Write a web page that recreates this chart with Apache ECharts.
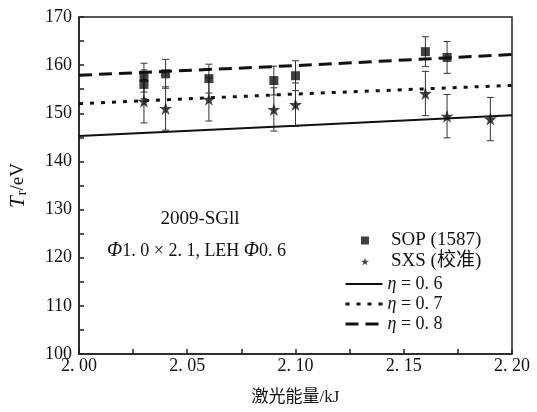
<!DOCTYPE html>
<html>
<head>
<meta charset="utf-8">
<script src="https://cdn.jsdelivr.net/npm/echarts@6/dist/echarts.min.js"></script>
<style>
  html, body { margin: 0; padding: 0; background: #fff; }
  #chart { width: 537px; height: 412px; }
</style>
</head>
<body>
<div id="chart"></div>
<script>
// Laser energy (kJ) and radiation temperature (eV) measurements
const sopEnergy = [2.03, 2.03, 2.04, 2.06, 2.09, 2.10, 2.16, 2.17];
const sopTemp   = [157.4, 156.0, 158.2, 157.2, 156.8, 157.8, 162.8, 161.6];
const sopErr    = [3.0, 3.0, 3.0, 3.0, 3.0, 3.1, 3.1, 3.3];

const sxsEnergy = [2.03, 2.04, 2.06, 2.09, 2.10, 2.16, 2.17, 2.19];
const sxsTemp   = [152.5, 151.0, 152.9, 150.8, 151.8, 154.1, 149.4, 148.8];
const sxsErr    = [4.5, 4.5, 4.5, 4.5, 4.5, 4.6, 4.5, 4.5];

// Model curves for several conversion efficiencies
const modelEnergy = [2.00, 2.10, 2.20];
const eta06 = [145.3, 147.4, 149.6];
const eta07 = [152.0, 154.0, 155.8];
const eta08 = [157.9, 159.9, 162.2];

const xTickValues = [2.00, 2.05, 2.10, 2.15, 2.20];
const xTickLabels = ['2. 00', '2. 05', '2. 10', '2. 15', '2. 20'];

const seriesNames = ['SOP (1587)', 'SXS (校准)', 'η=0. 6', 'η=0. 7', 'η=0. 8'];

const serif = "'Liberation Serif', 'Noto Sans CJK SC', serif";
const starPath = 'path://M50,0 L61,35 L98,35 L68,57 L79,91 L50,70 L21,91 L32,57 L2,35 L39,35 Z';

const lineStyles = [
  { color: '#111', width: 2, type: 'solid' },
  { color: '#111', width: 3, type: [4, 7] },
  { color: '#111', width: 3, type: [13, 7] }
];

function pairs(xs, ys) { return xs.map((x, i) => [x, ys[i]]); }
function triples(xs, ys, es) { return xs.map((x, i) => [x, ys[i], es[i]]); }

function errorBar(params, api) {
  const x = api.value(0), y = api.value(1), e = api.value(2);
  const top = api.coord([x, y + e]);
  const bot = api.coord([x, y - e]);
  const hw = 3.5;
  const style = { stroke: '#333', lineWidth: 1 };
  return {
    type: 'group',
    children: [
      { type: 'line', shape: { x1: top[0], y1: top[1], x2: bot[0], y2: bot[1] }, style },
      { type: 'line', shape: { x1: top[0] - hw, y1: top[1], x2: top[0] + hw, y2: top[1] }, style },
      { type: 'line', shape: { x1: bot[0] - hw, y1: bot[1], x2: bot[0] + hw, y2: bot[1] }, style }
    ]
  };
}

const chart = echarts.init(document.getElementById('chart'), null, { renderer: 'canvas' });

chart.setOption({
  backgroundColor: '#fff',
  animation: false,
  grid: {
    left: 79, right: 25, top: 17, bottom: 58,
    show: true, borderColor: '#222', borderWidth: 1.5, backgroundColor: 'transparent'
  },
  xAxis: {
    type: 'value', min: 2.0, max: 2.2, interval: 0.05,
    name: '激光能量/kJ', nameLocation: 'middle', nameGap: 35,
    nameTextStyle: { fontFamily: serif, fontSize: 17, color: '#111' },
    axisLine: { lineStyle: { color: '#222', width: 1.5 } },
    axisTick: { inside: true, length: 5, lineStyle: { color: '#222', width: 1.5 } },
    minorTick: { show: true, splitNumber: 2, length: 5, lineStyle: { color: '#222', width: 1.5 } },
    splitLine: { show: false },
    axisLabel: {
      margin: 3, fontFamily: serif, fontSize: 18, color: '#111',
      formatter: v => {
        const i = xTickValues.findIndex(t => Math.abs(t - v) < 1e-6);
        return i >= 0 ? xTickLabels[i] : '';
      }
    }
  },
  yAxis: {
    type: 'value', min: 100, max: 170, interval: 10,
    name: '{t|T}{s|r}/eV', nameLocation: 'middle', nameGap: 50, nameRotate: 90,
    nameTextStyle: {
      fontFamily: serif, fontSize: 19, color: '#111',
      rich: {
        t: { fontFamily: serif, fontSize: 21, fontStyle: 'italic', color: '#111' },
        s: { fontFamily: serif, fontSize: 14, color: '#111', verticalAlign: 'bottom', padding: [7, 0, 0, 1] }
      }
    },
    axisLine: { lineStyle: { color: '#222', width: 1.5 } },
    axisTick: { inside: true, length: 5, lineStyle: { color: '#222', width: 1.5 } },
    minorTick: { show: true, splitNumber: 2, length: 5, lineStyle: { color: '#222', width: 1.5 } },
    splitLine: { show: false },
    axisLabel: { margin: 7, fontFamily: serif, fontSize: 18, color: '#111' }
  },
  legend: [
    {
      data: [seriesNames[0], { name: seriesNames[1], icon: starPath }],
      orient: 'vertical', left: 356, top: 226,
      itemWidth: 8, itemHeight: 8, itemGap: 2,
      textStyle: { fontFamily: serif, fontSize: 19, color: '#111', lineHeight: 18, padding: [0, 0, 0, 17] }
    },
    {
      data: seriesNames.slice(2).map((n, i) => ({
        name: n, lineStyle: lineStyles[i], itemStyle: { opacity: 0 }
      })),
      orient: 'vertical', left: 339, top: 270,
      itemWidth: 37, itemHeight: 14, itemGap: 2,
      formatter: n => n.replace('η', '{i|η}').replace('=', ' = '),
      textStyle: {
        fontFamily: serif, fontSize: 18, color: '#111', lineHeight: 18,
        rich: { i: { fontStyle: 'italic', fontFamily: serif, fontSize: 18, color: '#111', lineHeight: 18 } }
      }
    }
  ],
  graphic: [
    {
      type: 'text', x: 200, y: 219,
      style: { text: '2009-SGll', font: "19px 'Liberation Serif', serif", fill: '#111',
               textAlign: 'center', textVerticalAlign: 'middle' }
    },
    {
      type: 'text', x: 107, y: 251,
      style: {
        text: '{i|Φ}1. 0 × 2. 1, LEH {i|Φ}0. 6',
        fontFamily: serif, fontSize: 18, fill: '#111',
        textAlign: 'left', textVerticalAlign: 'middle',
        rich: { i: { fontFamily: serif, fontSize: 20, fontStyle: 'italic', fill: '#111' } }
      }
    }
  ],
  series: [
    {
      name: seriesNames[2], type: 'line', data: pairs(modelEnergy, eta06),
      symbol: 'none', lineStyle: lineStyles[0], itemStyle: { color: '#111' }
    },
    {
      name: seriesNames[3], type: 'line', data: pairs(modelEnergy, eta07),
      symbol: 'none', lineStyle: lineStyles[1], itemStyle: { color: '#111' }
    },
    {
      name: seriesNames[4], type: 'line', data: pairs(modelEnergy, eta08),
      symbol: 'none', lineStyle: lineStyles[2], itemStyle: { color: '#111' }
    },
    {
      type: 'custom', renderItem: errorBar, data: triples(sopEnergy, sopTemp, sopErr),
      encode: { x: 0, y: [1, 2] }, z: 3
    },
    {
      type: 'custom', renderItem: errorBar, data: triples(sxsEnergy, sxsTemp, sxsErr),
      encode: { x: 0, y: [1, 2] }, z: 3
    },
    {
      name: seriesNames[0], type: 'scatter', data: pairs(sopEnergy, sopTemp),
      symbol: 'rect', symbolSize: 9, itemStyle: { color: '#111' }, z: 4
    },
    {
      name: seriesNames[1], type: 'scatter', data: pairs(sxsEnergy, sxsTemp),
      symbol: starPath, symbolSize: 13, itemStyle: { color: '#111' }, z: 4
    }
  ]
});
</script>
</body>
</html>
